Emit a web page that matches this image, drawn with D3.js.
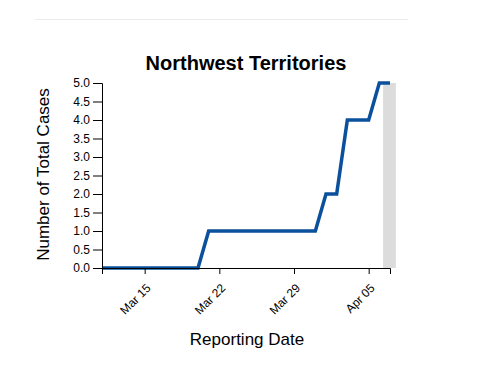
<!DOCTYPE html>
<html>
<head>
<meta charset="utf-8">
<script src="https://cdn.jsdelivr.net/npm/d3@7/dist/d3.min.js"></script>
<style>
body{margin:0;background:#fff;}
svg{display:block;font-family:"Liberation Sans",Arial,sans-serif;}
</style>
</head>
<body>
<svg id="chart" width="504" height="384"></svg>
<script>
const dates = ["2020-03-11","2020-03-12","2020-03-13","2020-03-14","2020-03-15","2020-03-16","2020-03-17","2020-03-18","2020-03-19","2020-03-20","2020-03-21","2020-03-22","2020-03-23","2020-03-24","2020-03-25","2020-03-26","2020-03-27","2020-03-28","2020-03-29","2020-03-30","2020-03-31","2020-04-01","2020-04-02","2020-04-03","2020-04-04","2020-04-05","2020-04-06","2020-04-07"];
const totalCases = [0,0,0,0,0,0,0,0,0,0,1,1,1,1,1,1,1,1,1,1,1,2,2,4,4,4,5,5];
const highlightDate = "2020-04-07";
const tickDates = ["2020-03-15","2020-03-22","2020-03-29","2020-04-05"];
const yTicks = [0,0.5,1,1.5,2,2.5,3,3.5,4,4.5,5];
const title = "Northwest Territories";
const xLabel = "Reporting Date";
const yLabel = "Number of Total Cases";

const parse = d3.utcParse("%Y-%m-%d");
const data = dates.map((d,i)=>({date:parse(d), value:totalCases[i]}));

const svg = d3.select("#chart");
const margin = {top:83, right:114, bottom:116, left:102};
const W = 504, H = 384;
const iw = W - margin.left - margin.right, ih = H - margin.top - margin.bottom;

// top divider
svg.append("line").attr("x1",35).attr("x2",408).attr("y1",19.5).attr("y2",19.5)
  .attr("stroke","#ebebeb").attr("stroke-width",1);

const g = svg.append("g").attr("transform",`translate(${margin.left},${margin.top})`);

const x = d3.scaleUtc().domain(d3.extent(data,d=>d.date)).range([0,iw]);
const y = d3.scaleLinear().domain([0,5]).range([ih,0]);

// highlight band
const hd = parse(highlightDate);
const dayW = x(d3.utcDay.offset(hd,1)) - x(hd);
g.append("rect")
  .attr("x", x(hd) - dayW*0.65)
  .attr("y", y(5))
  .attr("width", dayW*1.2)
  .attr("height", y(0)-y(5))
  .attr("fill","#dcdcdc");

const line = d3.line().x(d=>x(d.date)).y(d=>y(d.value));
g.append("path").datum(data).attr("d",line)
  .attr("fill","none").attr("stroke","#0b509c").attr("stroke-width",3.5);

const xAxis = g.append("g").attr("transform",`translate(0,${ih})`)
  .call(d3.axisBottom(x).tickValues(tickDates.map(parse)).tickFormat(d3.utcFormat("%b %d")));
xAxis.selectAll("text")
  .attr("font-size",12)
  .style("text-anchor","end")
  .attr("dx","-0.85em").attr("dy","0.85em")
  .attr("transform","rotate(-45)");

const yAxis = g.append("g")
  .call(d3.axisLeft(y).tickValues(yTicks).tickSize(9).tickFormat(d3.format(".1f")));

g.selectAll(".tick text").attr("font-size",12).attr("font-family","Liberation Sans, Arial, sans-serif").attr("fill","#000");
g.selectAll(".domain, .tick line").attr("stroke","#000");

svg.append("text").attr("x",margin.left+iw/2).attr("y",70)
  .attr("text-anchor","middle").attr("font-size",20).attr("font-weight","bold").text(title);

svg.append("text").attr("x",247).attr("y",345)
  .attr("text-anchor","middle").attr("font-size",17).text(xLabel);

svg.append("text").attr("transform",`translate(49,174.5) rotate(-90)`)
  .attr("text-anchor","middle").attr("font-size",17).text(yLabel);
</script>
</body>
</html>
